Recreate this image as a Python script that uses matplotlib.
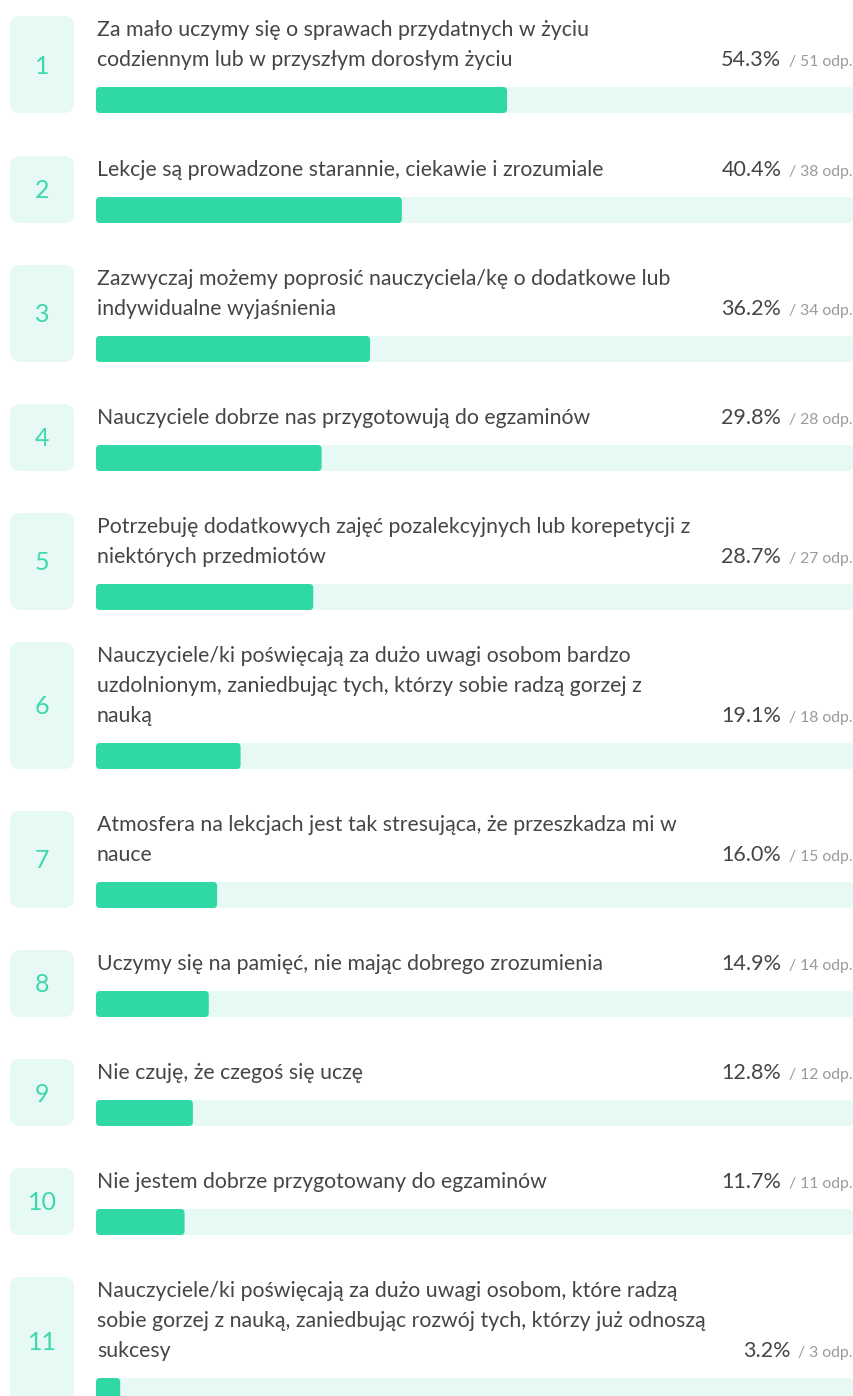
import matplotlib.pyplot as plt
from matplotlib.patches import FancyBboxPatch

# ------------------------------------------------
# data
# ------------------------------------------------
labels = [
    "Za mało uczymy się o sprawach przydatnych w życiu\ncodziennym lub w przyszłym dorosłym życiu",
    "Lekcje są prowadzone starannie, ciekawie i zrozumiale",
    "Zazwyczaj możemy poprosić nauczyciela/kę o dodatkowe lub\nindywidualne wyjaśnienia",
    "Nauczyciele dobrze nas przygotowują do egzaminów",
    "Potrzebuję dodatkowych zajęć pozalekcyjnych lub korepetycji z\nniektórych przedmiotów",
    "Nauczyciele/ki poświęcają za dużo uwagi osobom bardzo\nuzdolnionym, zaniedbując tych, którzy sobie radzą gorzej z\nnauką",
    "Atmosfera na lekcjach jest tak stresująca, że przeszkadza mi w\nnauce",
    "Uczymy się na pamięć, nie mając dobrego zrozumienia",
    "Nie czuję, że czegoś się uczę",
    "Nie jestem dobrze przygotowany do egzaminów",
    "Nauczyciele/ki poświęcają za dużo uwagi osobom, które radzą\nsobie gorzej z nauką, zaniedbując rozwój tych, którzy już odnoszą\nsukcesy",
]
percents = [54.3, 40.4, 36.2, 29.8, 28.7, 19.1, 16.0, 14.9, 12.8, 11.7, 3.2]
counts = [51, 38, 34, 28, 27, 18, 15, 14, 12, 11, 3]

# ------------------------------------------------
# style / layout (pixels)
# ------------------------------------------------
W, H = 854, 1396
green = '#2fd8a4'
light = '#e7f9f4'
num_color = '#3ed9a8'
text_color = '#454545'
sub_color = '#9a9a9a'

# top edge of each row block, as measured
row_tops = [16, 156, 265, 404, 513, 642, 811, 950, 1059, 1168, 1277]

x_box, w_box = 10, 64
x_bar, w_bar = 96, 757
x_right = 853
line_h = 30
bar_h = 26

label_fs = 15.3
pct_fs = 15.5
sub_fs = 11.3
num_fs = 18

plt.rcParams['font.family'] = ['Lato', 'DejaVu Sans']

fig = plt.figure(figsize=(W / 100, H / 100), dpi=100)
ax = fig.add_axes([0, 0, 1, 1])
ax.set_xlim(0, W)
ax.set_ylim(H, 0)
ax.axis('off')
renderer = fig.canvas.get_renderer()

for i, (lab, pct, n) in enumerate(zip(labels, percents, counts)):
    top = row_tops[i]
    lines = lab.split('\n')
    bottom = top + 37 + line_h * len(lines)
    bar_top = bottom - bar_h
    base0 = top + 20
    last_base = base0 + line_h * (len(lines) - 1)

    # number box
    ax.add_patch(FancyBboxPatch((x_box, top), w_box, bottom - top,
                                boxstyle='round,pad=0,rounding_size=10',
                                fc=light, ec='none'))
    digit_h = 0.72 * num_fs * 100 / 72
    ax.text(x_box + w_box / 2, (top + bottom) / 2 + digit_h / 2, str(i + 1),
            ha='center', va='baseline', fontsize=num_fs, color=num_color)

    # label
    for j, line in enumerate(lines):
        ax.text(x_bar + 1, base0 + j * line_h, line, ha='left', va='baseline',
                fontsize=label_fs, color=text_color)

    # value text
    sub = ax.text(x_right, last_base, f'/ {n} odp.', ha='right', va='baseline',
                  fontsize=sub_fs, color=sub_color)
    bb = sub.get_window_extent(renderer)
    ax.text(x_right - bb.width - 8, last_base, f'{pct:.1f}%', ha='right',
            va='baseline', fontsize=pct_fs, color=text_color)

    # track + bar
    ax.add_patch(FancyBboxPatch((x_bar, bar_top), w_bar, bar_h,
                                boxstyle='round,pad=0,rounding_size=4',
                                fc=light, ec='none'))
    ax.add_patch(FancyBboxPatch((x_bar, bar_top), w_bar * pct / 100, bar_h,
                                boxstyle='round,pad=0,rounding_size=4',
                                fc=green, ec='none'))

fig.savefig('out.png', dpi=100)
